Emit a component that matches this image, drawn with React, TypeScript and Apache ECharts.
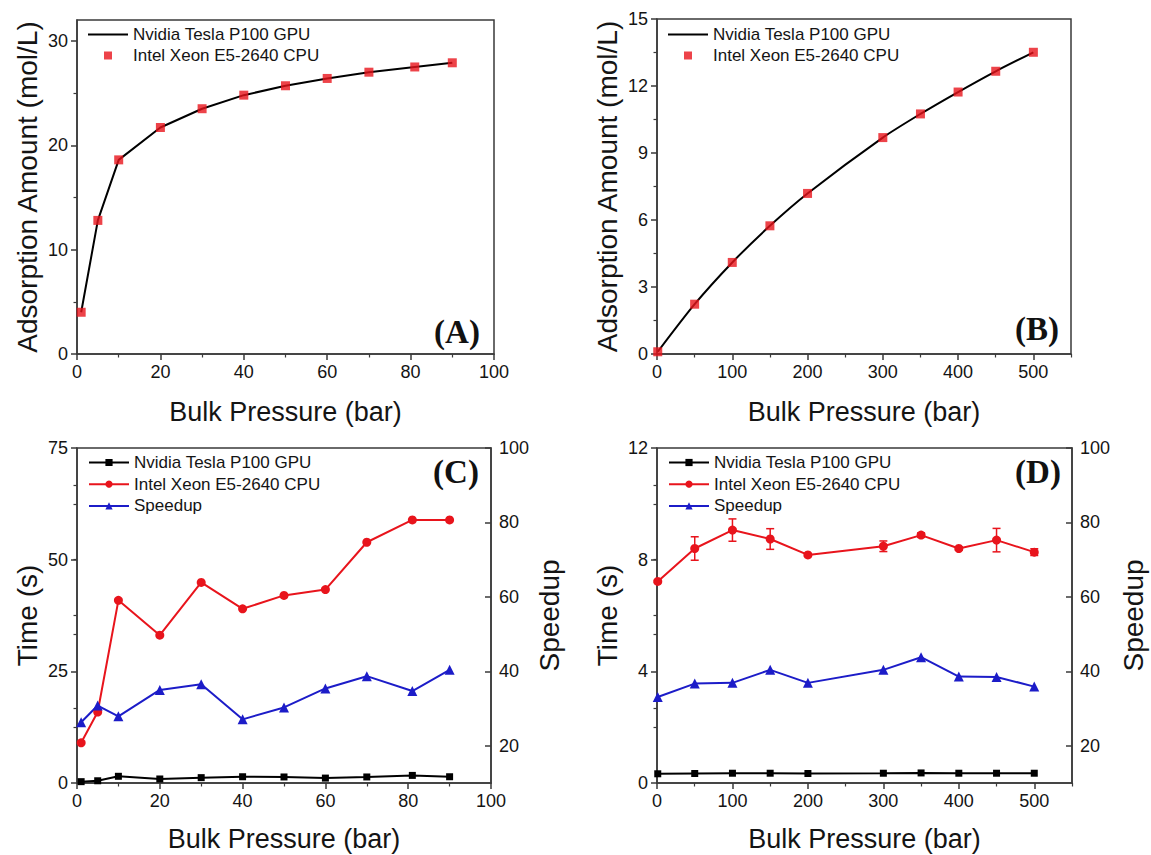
import React, { useEffect, useRef } from 'react';
import * as echarts from 'echarts';

// ---- series names ----
const GPU_NAME = 'Nvidia Tesla P100 GPU';
const CPU_NAME = 'Intel Xeon E5-2640 CPU';
const SPEEDUP_NAME = 'Speedup';

// ---- (A) adsorption isotherm, low pressure ----
const pressureA = [1, 5, 10, 20, 30, 40, 50, 60, 70, 81, 90];
const adsorptionA = [4.0, 12.8, 18.6, 21.7, 23.5, 24.8, 25.7, 26.4, 27.0, 27.5, 27.9];

// ---- (B) adsorption isotherm, high pressure ----
const pressureB = [1, 50, 100, 150, 200, 300, 350, 400, 450, 500];
const adsorptionB = [0.1, 2.23, 4.1, 5.74, 7.19, 9.69, 10.75, 11.73, 12.66, 13.51];

// ---- (C) timings, low pressure ----
const pressureC = [1, 5, 10, 20, 30, 40, 50, 60, 70, 81, 90];
const gpuTimeC = [0.3, 0.5, 1.5, 0.9, 1.2, 1.4, 1.35, 1.1, 1.35, 1.7, 1.4];
const cpuTimeC = [9.0, 15.9, 40.9, 33.1, 44.9, 39.0, 42.0, 43.3, 53.9, 58.9, 58.9];
const speedupC = [26.3, 30.8, 27.9, 35.0, 36.5, 27.1, 30.3, 35.4, 38.7, 34.7, 40.4];

// ---- (D) timings, high pressure ----
const pressureD = [1, 50, 100, 150, 200, 300, 350, 400, 450, 500];
const gpuTimeD = [0.33, 0.34, 0.35, 0.35, 0.34, 0.35, 0.36, 0.35, 0.35, 0.35];
const cpuTimeD = [7.22, 8.4, 9.06, 8.74, 8.17, 8.48, 8.88, 8.4, 8.7, 8.27];
const cpuErrD = [0.04, 0.42, 0.4, 0.37, 0.05, 0.19, 0.08, 0.06, 0.42, 0.12];
const speedupD = [33.1, 36.7, 36.9, 40.4, 36.9, 40.4, 43.8, 38.6, 38.5, 35.9];

// ---- tick values ----
const ticksXLow = [0, 20, 40, 60, 80, 100];
const minorXLow = [10, 30, 50, 70, 90];
const ticksXHigh = [0, 100, 200, 300, 400, 500];
const minorXHigh = [50, 150, 250, 350, 450, 550];
const ticksYA = [0, 10, 20, 30];
const minorYA = [5, 15, 25];
const ticksYB = [0, 3, 6, 9, 12, 15];
const minorYB = [1.5, 4.5, 7.5, 10.5, 13.5];
const ticksYC = [0, 25, 50, 75];
const minorYC = [12.5, 37.5, 62.5];
const ticksYD = [0, 4, 8, 12];
const minorYD = [2, 6, 10];
const ticksSpeedup = [20, 40, 60, 80, 100];
const minorSpeedup = [30, 50, 70, 90];

// ---- styling ----
const FONT = '"Liberation Sans", Arial, sans-serif';
const SERIF = '"Liberation Serif", "Times New Roman", serif';
const INK = '#141414';
const AXIS_COLOR = '#3a3a3a';
const RED = '#e8141c';
const BLUE = '#1c1cc8';
const BLACK = '#000000';

const zip = (xs: number[], ys: number[]) => xs.map((x, i) => [x, ys[i]]);

type AxisSpec = {
  min: number;
  max: number;
  major: number[];
  minor: number[];
  position: 'left' | 'right' | 'bottom';
  inside?: boolean;
  name?: string;
  nameGap?: number;
  nameSize?: number;
  labelMargin?: number;
};

// Returns a labelled axis plus a companion axis that only carries the minor ticks.
function axisPair(spec: AxisSpec) {
  const common = {
    type: 'value',
    gridIndex: 0,
    min: spec.min,
    max: spec.max,
    position: spec.position,
    splitLine: { show: false },
    minorTick: { show: false },
    nameMoveOverlap: false,
  };
  const main = {
    ...common,
    name: spec.name || '',
    nameLocation: 'middle',
    nameGap: spec.nameGap ?? 40,
    nameTextStyle: { fontFamily: FONT, fontSize: spec.nameSize ?? 27, color: INK },
    axisLine: { show: true, onZero: false, lineStyle: { color: AXIS_COLOR, width: 1.5 } },
    axisTick: {
      show: true,
      inside: !!spec.inside,
      length: 6,
      customValues: spec.major,
      lineStyle: { color: AXIS_COLOR, width: 1.5 },
    },
    axisLabel: {
      show: true,
      customValues: spec.major,
      margin: spec.labelMargin ?? 9,
      fontFamily: FONT,
      fontSize: 18,
      color: INK,
    },
  };
  const minor = {
    ...common,
    axisLine: { show: false },
    axisLabel: { show: false },
    axisTick: {
      show: true,
      inside: !!spec.inside,
      length: 3.5,
      customValues: spec.minor,
      lineStyle: { color: AXIS_COLOR, width: 1.2 },
    },
  };
  return [main, minor];
}

function frameGrid(left: number, top: number, width: number, height: number) {
  return {
    left,
    top,
    width,
    height,
    show: true,
    borderColor: AXIS_COLOR,
    borderWidth: 1.5,
    backgroundColor: 'transparent',
    outerBoundsMode: 'none',
  };
}

function panelLabel(text: string, x: number, y: number) {
  return {
    type: 'text',
    x,
    y,
    silent: true,
    style: {
      text,
      font: `bold 33px ${SERIF}`,
      fill: '#111111',
      align: 'center',
      verticalAlign: 'middle',
    },
  };
}

const legendBase = {
  orient: 'vertical',
  itemWidth: 40,
  itemGap: 4,
  selectedMode: false,
  textStyle: { fontFamily: FONT, fontSize: 17, color: INK, lineHeight: 17 },
};

const lineOnlyIcon = 'path://M0 0H40V2.2H0Z';
const squareIcon = 'path://M0 0H10V10H0Z';

function isothermOption(
  label: string,
  xs: number[],
  ys: number[],
  xSpec: Omit<AxisSpec, 'position'>,
  ySpec: Omit<AxisSpec, 'position'>,
  grid: { left: number; top: number; width: number; height: number },
  labelPos: [number, number],
  smooth: number | boolean
) {
  return {
    animation: false,
    textStyle: { fontFamily: FONT },
    grid: frameGrid(grid.left, grid.top, grid.width, grid.height),
    xAxis: axisPair({ ...xSpec, position: 'bottom' }),
    yAxis: axisPair({ ...ySpec, position: 'left' }),
    legend: {
      ...legendBase,
      left: grid.left + 6,
      top: 21,
      itemHeight: 8,
      data: [
        { name: GPU_NAME, icon: lineOnlyIcon },
        { name: CPU_NAME, icon: squareIcon },
      ],
    },
    graphic: [panelLabel(label, labelPos[0], labelPos[1])],
    series: [
      {
        type: 'line',
        name: GPU_NAME,
        xAxisIndex: 0,
        yAxisIndex: 0,
        data: zip(xs, ys),
        symbol: 'none',
        smooth,
        lineStyle: { color: BLACK, width: 2 },
        itemStyle: { color: BLACK },
        z: 2,
      },
      {
        type: 'scatter',
        name: CPU_NAME,
        xAxisIndex: 0,
        yAxisIndex: 0,
        data: zip(xs, ys),
        symbol: 'rect',
        symbolSize: 9,
        itemStyle: { color: RED },
        z: 3,
      },
    ],
  };
}

function timingOption(
  label: string,
  xs: number[],
  gpu: number[],
  cpu: number[],
  speedup: number[],
  errors: number[] | null,
  xSpec: Omit<AxisSpec, 'position'>,
  ySpec: Omit<AxisSpec, 'position'>,
  speedupGap: number,
  grid: { left: number; top: number; width: number; height: number },
  labelPos: [number, number]
) {
  const series: any[] = [
    {
      type: 'line',
      name: GPU_NAME,
      xAxisIndex: 0,
      yAxisIndex: 0,
      data: zip(xs, gpu),
      symbol: 'rect',
      symbolSize: 7,
      lineStyle: { color: BLACK, width: 2 },
      itemStyle: { color: BLACK },
      z: 3,
    },
    {
      type: 'line',
      name: CPU_NAME,
      xAxisIndex: 0,
      yAxisIndex: 0,
      data: zip(xs, cpu),
      symbol: 'circle',
      symbolSize: 9,
      lineStyle: { color: RED, width: 2 },
      itemStyle: { color: RED },
      z: 3,
    },
    {
      type: 'line',
      name: SPEEDUP_NAME,
      xAxisIndex: 0,
      yAxisIndex: 2,
      data: zip(xs, speedup),
      symbol: 'triangle',
      symbolSize: 10,
      lineStyle: { color: BLUE, width: 2 },
      itemStyle: { color: BLUE },
      z: 3,
    },
  ];
  if (errors) {
    series.push({
      type: 'custom',
      name: 'CPU time spread',
      xAxisIndex: 0,
      yAxisIndex: 0,
      data: xs.map((x, i) => [x, cpu[i], errors[i]]),
      encode: { x: 0, y: 1 },
      z: 2,
      silent: true,
      renderItem: (_params: any, api: any) => {
        const x = api.value(0);
        const y = api.value(1);
        const e = api.value(2);
        const top = api.coord([x, y + e]);
        const bottom = api.coord([x, y - e]);
        const half = 4;
        const style = { stroke: RED, lineWidth: 1.5, fill: 'none' };
        return {
          type: 'group',
          children: [
            { type: 'line', shape: { x1: top[0], y1: top[1], x2: bottom[0], y2: bottom[1] }, style },
            { type: 'line', shape: { x1: top[0] - half, y1: top[1], x2: top[0] + half, y2: top[1] }, style },
            { type: 'line', shape: { x1: bottom[0] - half, y1: bottom[1], x2: bottom[0] + half, y2: bottom[1] }, style },
          ],
        };
      },
    });
  }
  return {
    animation: false,
    textStyle: { fontFamily: FONT },
    grid: frameGrid(grid.left, grid.top, grid.width, grid.height),
    xAxis: axisPair({ ...xSpec, position: 'bottom' }),
    yAxis: [
      ...axisPair({ ...ySpec, position: 'left' }),
      ...axisPair({
        min: 10,
        max: 100,
        major: ticksSpeedup,
        minor: minorSpeedup,
        position: 'right',
        inside: true,
        name: SPEEDUP_NAME,
        nameGap: speedupGap,
        nameSize: 28,
        labelMargin: 8,
      }),
    ],
    legend: {
      ...legendBase,
      left: grid.left + 6,
      top: 21,
      itemHeight: 9,
      itemGap: 4.7,
      data: [GPU_NAME, CPU_NAME, SPEEDUP_NAME],
    },
    graphic: [panelLabel(label, labelPos[0], labelPos[1])],
    series,
  };
}

const PANEL_W = 575;
const PANEL_H = 428;

const options = [
  isothermOption(
    '(A)',
    pressureA,
    adsorptionA,
    { min: 0, max: 100, major: ticksXLow, minor: minorXLow, name: 'Bulk Pressure (bar)', nameGap: 44 },
    { min: 0, max: 32, major: ticksYA, minor: minorYA, name: 'Adsorption Amount (mol/L)', nameGap: 36, nameSize: 28 },
    { left: 77, top: 20, width: 417, height: 334 },
    [457, 332],
    false
  ),
  isothermOption(
    '(B)',
    pressureB,
    adsorptionB,
    { min: 0, max: 550, major: ticksXHigh, minor: minorXHigh, name: 'Bulk Pressure (bar)', nameGap: 44 },
    { min: 0, max: 15, major: ticksYB, minor: minorYB, name: 'Adsorption Amount (mol/L)', nameGap: 36, nameSize: 28 },
    { left: 82, top: 19, width: 414, height: 335 },
    [462, 329],
    0.25
  ),
  timingOption(
    '(C)',
    pressureC,
    gpuTimeC,
    cpuTimeC,
    speedupC,
    null,
    { min: 0, max: 100, major: ticksXLow, minor: minorXLow, name: 'Bulk Pressure (bar)', nameGap: 42 },
    { min: 0, max: 75, major: ticksYC, minor: minorYC, name: 'Time (s)', nameGap: 36, nameSize: 28 },
    44,
    { left: 77, top: 20, width: 414, height: 335 },
    [456, 44]
  ),
  timingOption(
    '(D)',
    pressureD,
    gpuTimeD,
    cpuTimeD,
    speedupD,
    cpuErrD,
    { min: 0, max: 550, major: ticksXHigh, minor: minorXHigh, name: 'Bulk Pressure (bar)', nameGap: 42 },
    { min: 0, max: 12, major: ticksYD, minor: minorYD, name: 'Time (s)', nameGap: 36, nameSize: 28 },
    47,
    { left: 82, top: 20, width: 415, height: 335 },
    [463, 44]
  ),
];

const positions = [
  { left: 0, top: 0 },
  { left: PANEL_W, top: 0 },
  { left: 0, top: PANEL_H },
  { left: PANEL_W, top: PANEL_H },
];

export default function App() {
  const refs = [
    useRef<HTMLDivElement>(null),
    useRef<HTMLDivElement>(null),
    useRef<HTMLDivElement>(null),
    useRef<HTMLDivElement>(null),
  ];

  useEffect(() => {
    const charts = refs.map((r, i) => {
      const chart = echarts.init(r.current as HTMLDivElement, undefined, { renderer: 'svg' });
      chart.setOption(options[i] as any);
      return chart;
    });
    return () => charts.forEach((c) => c.dispose());
  }, []);

  return (
    <div style={{ position: 'absolute', left: 0, top: 0, width: 1151, height: 855, background: '#ffffff' }}>
      {refs.map((r, i) => (
        <div
          key={i}
          ref={r}
          style={{
            position: 'absolute',
            left: positions[i].left,
            top: positions[i].top,
            width: i % 2 === 0 ? PANEL_W : 1151 - PANEL_W,
            height: i < 2 ? PANEL_H : 855 - PANEL_H,
          }}
        />
      ))}
    </div>
  );
}
